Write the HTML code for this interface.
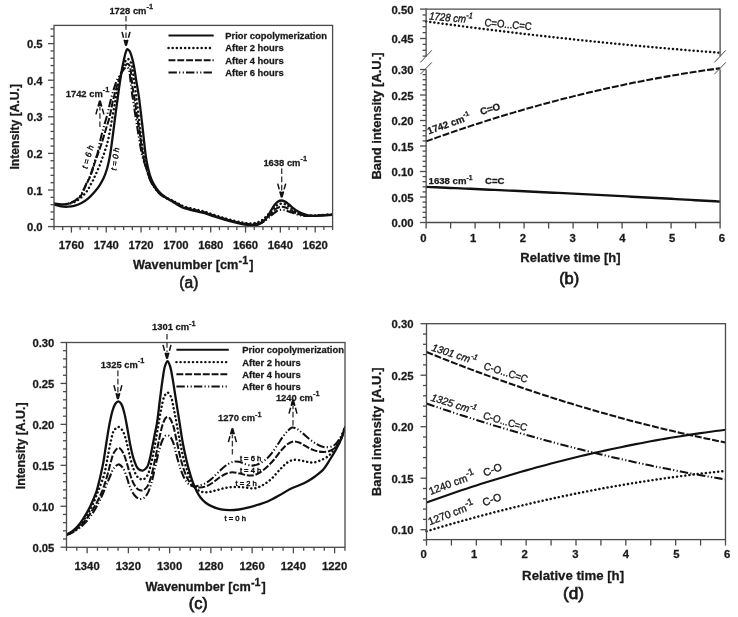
<!DOCTYPE html>
<html><head><meta charset="utf-8"><title>Figure</title>
<style>
html,body{margin:0;padding:0;background:#fff;width:738px;height:617px;overflow:hidden;}
svg{display:block;font-family:"Liberation Sans", sans-serif;filter:grayscale(1);}
</style></head>
<body>
<svg width="738" height="617" viewBox="0 0 738 617">
<rect width="738" height="617" fill="#fff"/>
<defs><clipPath id="clipA"><rect x="54" y="25.4" width="278.6" height="201.2"/></clipPath>
<clipPath id="clipC"><rect x="66.5" y="342.5" width="278.5" height="204.8"/></clipPath></defs>
<g clip-path="url(#clipA)">
<path d="M54 203.6C56.67 203.9 59.53 204.55 62 204.5C64.15 204.46 66.07 204.12 68 203.6C69.9 203.08 71.86 202.3 73.5 201.4C75 200.58 76.26 199.57 77.5 198.5C78.73 197.44 79.92 196.39 80.9 195C82 193.44 82.69 191.39 83.6 189.5C84.56 187.5 85.5 185.36 86.5 183.3C87.5 181.23 88.67 179.27 89.6 177.1C90.58 174.82 91.37 172.44 92.2 169.9C93.11 167.1 93.88 163.78 94.8 161C95.63 158.49 96.7 156.39 97.4 153.9C98.15 151.24 98.48 148.34 99.1 145.5C99.74 142.55 100.47 139.5 101.2 136.5C101.93 133.5 102.68 130.42 103.5 127.5C104.29 124.69 105.22 122.07 106 119.3C106.79 116.5 107.52 113.57 108.2 110.8C108.85 108.17 109.36 105.73 110 103.1C110.68 100.31 111.42 97.3 112.2 94.5C112.95 91.8 113.76 89.08 114.6 86.6C115.37 84.34 116.1 82.17 117 80.2C117.82 78.4 118.74 76.77 119.7 75.2C120.61 73.71 121.66 72.27 122.6 71C123.42 69.9 124.18 68.63 125 68C125.59 67.55 126.23 67.13 126.8 67.2C127.4 67.27 128.06 67.83 128.5 68.5C129.14 69.49 129.31 71.38 129.6 73C129.93 74.85 130.07 76.97 130.3 79C130.54 81.1 130.73 83.11 131 85.4C131.32 88.06 131.68 91.15 132.1 94C132.52 96.85 133.04 99.5 133.5 102.5C134.01 105.86 134.45 109.55 135 113.2C135.58 117.04 136.29 121.23 136.9 125C137.46 128.47 137.93 131.52 138.5 135C139.12 138.82 139.8 143.19 140.5 147C141.14 150.49 141.64 153.78 142.5 157C143.32 160.11 144.54 162.96 145.5 166C146.48 169.09 147.21 172.41 148.3 175.4C149.33 178.23 150.44 180.98 151.8 183.5C153.09 185.9 154.57 188.2 156.2 190.2C157.73 192.08 159.42 193.81 161.2 195.2C162.87 196.5 164.67 197.38 166.5 198.4C168.4 199.45 170.46 200.39 172.4 201.4C174.3 202.39 176.07 203.39 178 204.4C180.03 205.46 181.88 206.7 184.3 207.6C187.28 208.71 191.36 209.37 194.7 210.2C197.81 210.97 200.61 211.5 203.7 212.4C207.06 213.37 210.63 214.78 214.1 215.9C217.56 217.01 221.02 218.1 224.5 219.1C227.96 220.1 231.76 221.12 234.9 221.9C237.48 222.54 239.72 223.09 242 223.5C244.08 223.87 246 224.13 248 224.3C250 224.47 252.1 224.64 254 224.5C255.75 224.37 257.4 224.06 259 223.6C260.56 223.15 262.05 222.59 263.5 221.8C265.05 220.95 266.54 219.79 268 218.6C269.54 217.34 270.97 215.69 272.5 214.4C273.97 213.17 275.43 211.77 277 211C278.41 210.31 279.95 209.89 281.4 209.8C282.78 209.72 284.12 210.06 285.5 210.4C286.98 210.77 288.46 211.45 290 212C291.62 212.58 293.32 213.26 295 213.8C296.66 214.33 298.24 214.84 300 215.2C301.9 215.59 303.85 215.87 306 216C308.47 216.15 311.34 216.02 314 215.9C316.67 215.78 319.15 215.49 322 215.3C325.28 215.08 329.07 214.9 332.6 214.7" fill="none" stroke="#111" stroke-width="2.05" stroke-dasharray="8.4 2.2 1.2 2.4 1.2 2.1" />
<path d="M54 203.5C56.67 203.8 59.52 204.38 62 204.4C64.14 204.41 66.07 204.24 68 203.8C69.9 203.37 71.86 202.65 73.5 201.8C75 201.02 76.25 200.05 77.5 199C78.75 197.95 79.99 196.89 81 195.5C82.13 193.95 82.87 191.92 83.8 190C84.8 187.93 85.78 185.66 86.8 183.5C87.82 181.33 88.94 179.23 89.9 177C90.88 174.7 91.74 172.42 92.6 169.9C93.55 167.12 94.35 163.78 95.3 161C96.16 158.48 97.16 156.21 98 153.9C98.79 151.72 99.52 149.44 100.2 147.5C100.77 145.87 101.25 144.7 101.8 143C102.5 140.83 103.25 138.04 104 135.5C104.78 132.88 105.57 130.18 106.4 127.5C107.24 124.78 108.25 122.06 109 119.3C109.75 116.56 110.33 113.74 110.9 111C111.46 108.34 111.83 105.7 112.4 103.1C112.96 100.53 113.63 98.06 114.3 95.5C114.99 92.86 115.72 90.12 116.5 87.5C117.26 84.95 118.05 82.45 118.9 80C119.72 77.62 120.56 75.2 121.5 73C122.37 70.95 123.23 68.82 124.3 67.2C125.2 65.84 126.32 63.89 127.3 63.8C128.08 63.73 129.03 64.7 129.6 65.6C130.38 66.84 130.48 69.07 130.8 71C131.16 73.17 131.35 75.63 131.6 78C131.85 80.43 131.97 82.85 132.3 85.4C132.66 88.16 133.22 91.14 133.7 94C134.18 96.84 134.74 99.5 135.2 102.5C135.72 105.86 136.08 109.55 136.6 113.2C137.14 117.04 137.81 121.23 138.4 125C138.94 128.47 139.49 131.51 140 135C140.56 138.81 141.02 143.19 141.6 147C142.13 150.49 142.6 153.77 143.3 157C143.97 160.1 144.84 162.99 145.7 166C146.57 169.06 147.42 172.27 148.5 175.2C149.53 177.99 150.66 180.71 152 183.2C153.27 185.56 154.7 187.83 156.3 189.8C157.82 191.67 159.53 193.4 161.3 194.8C162.94 196.1 164.69 196.99 166.5 198C168.38 199.06 170.47 199.97 172.4 201C174.3 202.01 176.07 203.08 178 204.1C180.03 205.18 181.88 206.4 184.3 207.3C187.28 208.41 191.36 209.07 194.7 209.9C197.81 210.67 200.61 211.2 203.7 212.1C207.06 213.07 210.63 214.48 214.1 215.6C217.56 216.71 221.02 217.8 224.5 218.8C227.96 219.8 231.76 220.82 234.9 221.6C237.48 222.24 239.72 222.79 242 223.2C244.08 223.57 246 223.85 248 224C250 224.15 252.1 224.29 254 224.1C255.75 223.92 257.41 223.56 259 223C260.57 222.45 262.06 221.74 263.5 220.8C265.07 219.78 266.54 218.38 268 217C269.54 215.55 270.97 213.79 272.5 212.3C273.98 210.86 275.4 209.12 277 208.2C278.39 207.4 279.95 206.9 281.4 206.8C282.78 206.7 284.14 207.05 285.5 207.5C287 208 288.47 208.98 290 209.8C291.63 210.67 293.31 211.79 295 212.6C296.64 213.38 298.23 214.07 300 214.6C301.88 215.16 303.85 215.59 306 215.8C308.46 216.04 311.34 215.9 314 215.8C316.67 215.7 319.15 215.39 322 215.2C325.28 214.98 329.07 214.8 332.6 214.6" fill="none" stroke="#111" stroke-width="2.05" stroke-dasharray="6.9 1.9" />
<path d="M54 203.4C56.67 203.77 59.33 204.5 62 204.5C64.67 204.5 67.55 203.99 70 203.4C72.17 202.88 74.12 202.3 76 201.3C77.96 200.26 79.84 198.69 81.5 197.2C83.09 195.78 84.58 194.13 85.8 192.6C86.87 191.26 87.64 190.03 88.5 188.6C89.42 187.07 90.25 185.26 91.1 183.7C91.88 182.27 92.72 180.97 93.4 179.6C94.05 178.3 94.52 177.01 95.1 175.7C95.69 174.37 96.3 173.03 96.9 171.7C97.5 170.37 98.11 169.07 98.7 167.7C99.31 166.27 99.96 164.75 100.5 163.3C101.02 161.92 101.4 160.59 101.9 159.2C102.43 157.75 103.09 156.24 103.6 154.8C104.08 153.44 104.45 152.13 104.9 150.8C105.35 149.46 105.87 148.16 106.3 146.8C106.74 145.4 107.1 144.14 107.5 142.5C108.03 140.35 108.59 137.54 109.1 135C109.63 132.38 110.11 129.64 110.6 127C111.08 124.41 111.53 121.91 112 119.3C112.49 116.59 113.01 113.73 113.5 111C113.98 108.33 114.4 105.83 114.9 103.1C115.43 100.17 116.02 97.1 116.6 94C117.21 90.74 117.81 87.24 118.5 84C119.15 80.91 119.84 77.9 120.6 75C121.32 72.25 122.05 69.42 122.9 67C123.64 64.92 124.32 62.72 125.3 61.3C126.03 60.23 126.97 58.88 127.8 58.9C128.64 58.92 129.61 60.38 130.3 61.5C131.17 62.92 131.69 64.87 132.2 67C132.88 69.81 133.15 73.81 133.6 77C134.01 79.92 134.4 82.58 134.8 85.4C135.2 88.25 135.63 91.14 136 94C136.37 96.84 136.64 99.5 137 102.5C137.4 105.86 137.88 109.54 138.3 113.2C138.74 117.04 139.15 121.23 139.6 125C140.02 128.47 140.47 131.51 140.9 135C141.37 138.82 141.77 143.19 142.3 147C142.78 150.49 143.26 153.77 143.9 157C144.51 160.09 145.2 163.01 146 166C146.8 169.01 147.67 172.13 148.7 175C149.68 177.72 150.68 180.36 152 182.8C153.29 185.18 154.86 187.5 156.5 189.5C158.04 191.37 159.76 193.08 161.5 194.5C163.1 195.81 164.73 196.8 166.5 197.8C168.35 198.84 170.46 199.66 172.4 200.6C174.3 201.52 176.08 202.43 178 203.4C180.04 204.43 181.88 205.7 184.3 206.6C187.28 207.71 191.36 208.37 194.7 209.2C197.81 209.97 200.61 210.5 203.7 211.4C207.06 212.37 210.63 213.78 214.1 214.9C217.56 216.01 221.02 217.1 224.5 218.1C227.96 219.1 231.76 220.12 234.9 220.9C237.48 221.54 239.72 222.09 242 222.5C244.08 222.87 246 223.18 248 223.3C250 223.42 252.11 223.48 254 223.2C255.76 222.94 257.42 222.49 259 221.8C260.59 221.1 262.06 220.14 263.5 219C265.08 217.75 266.52 216.06 268 214.5C269.52 212.9 270.97 211.06 272.5 209.5C273.97 208 275.41 206.3 277 205.3C278.39 204.43 279.94 203.71 281.4 203.6C282.77 203.49 284.15 203.95 285.5 204.5C287.02 205.12 288.48 206.27 290 207.3C291.64 208.42 293.29 209.95 295 211C296.62 212 298.23 212.8 300 213.5C301.88 214.25 303.83 214.95 306 215.3C308.45 215.69 311.33 215.55 314 215.5C316.67 215.45 319.15 215.18 322 215C325.29 214.79 329.07 214.53 332.6 214.3" fill="none" stroke="#111" stroke-width="2.45" stroke-dasharray="0.1 4.04" stroke-linecap="round" />
<path d="M54 204.6C56.33 205.2 58.65 206.05 61 206.4C63.32 206.74 65.67 206.83 68 206.7C70.34 206.57 72.74 206.22 75 205.6C77.24 204.98 79.39 204.12 81.5 203C83.73 201.82 85.92 200.33 88 198.6C90.26 196.72 92.53 194.27 94.5 192C96.38 189.83 98.09 187.61 99.6 185.3C101.08 183.04 102.36 180.74 103.5 178.3C104.67 175.81 105.64 173.18 106.5 170.5C107.38 167.75 108.05 164.88 108.7 162C109.36 159.05 109.9 156.01 110.4 153C110.9 150.01 111.28 147.08 111.7 144C112.15 140.76 112.56 137.41 113 134C113.46 130.42 113.93 126.67 114.4 123C114.87 119.33 115.32 115.67 115.8 112C116.28 108.33 116.8 104.67 117.3 101C117.8 97.33 118.28 93.67 118.8 90C119.32 86.33 119.83 82.66 120.4 79C120.97 75.33 121.54 71.53 122.2 68C122.82 64.71 123.53 61.38 124.2 58.5C124.76 56.07 125.24 53.48 125.9 51.8C126.33 50.7 126.69 49.31 127.3 49.2C127.92 49.09 128.89 50.12 129.6 51.2C130.97 53.28 132.11 57.95 133.1 62C134.33 67.01 135.05 73.41 136 79.1C136.95 84.77 137.98 90.42 138.8 96.1C139.62 101.78 140.27 107.91 140.9 113.2C141.45 117.77 141.95 122 142.4 126C142.8 129.54 143.13 132.59 143.5 136C143.89 139.58 144.29 143.42 144.7 147C145.09 150.41 145.4 153.76 145.9 157C146.38 160.09 146.94 163.01 147.6 166C148.27 169.01 148.98 172.15 149.9 175C150.76 177.67 151.72 180.22 152.9 182.6C154.03 184.88 155.35 187.04 156.8 189C158.19 190.89 159.77 192.7 161.4 194.2C162.92 195.6 164.46 196.65 166.2 197.8C168.1 199.06 170.4 200.18 172.4 201.4C174.33 202.58 176.05 203.88 178 205C180.01 206.15 181.88 207.3 184.3 208.2C187.28 209.31 191.36 209.97 194.7 210.8C197.81 211.57 200.61 212.1 203.7 213C207.06 213.97 210.63 215.38 214.1 216.5C217.56 217.61 221.02 218.7 224.5 219.7C227.96 220.7 231.76 221.72 234.9 222.5C237.48 223.14 239.72 223.69 242 224.1C244.08 224.47 246.04 224.72 248 224.9C249.87 225.08 251.76 225.27 253.5 225.2C255.08 225.14 256.58 225.05 258 224.6C259.41 224.15 260.7 223.46 262 222.5C263.54 221.36 265.13 219.73 266.5 218C268 216.11 269.17 213.67 270.5 211.5C271.83 209.33 273.1 206.77 274.5 205C275.63 203.58 276.74 202.25 278 201.5C279.07 200.87 280.25 200.49 281.4 200.5C282.58 200.51 283.82 201.01 285 201.6C286.36 202.27 287.65 203.44 289 204.5C290.48 205.66 291.97 207.13 293.5 208.3C294.97 209.42 296.47 210.5 298 211.4C299.47 212.26 300.9 212.95 302.5 213.6C304.22 214.3 306.1 215.02 308 215.4C309.93 215.79 311.86 215.86 314 215.9C316.47 215.94 319.15 215.65 322 215.5C325.29 215.32 329.07 215.1 332.6 214.9" fill="none" stroke="#111" stroke-width="2.3"  />
</g>
<rect x="54" y="25.4" width="278.6" height="201.2" fill="none" stroke="#4a4a4a" stroke-width="1.3"/>
<line x1="50.5" y1="219.28" x2="54" y2="219.28" stroke="#4a4a4a" stroke-width="1.3" />
<line x1="50.5" y1="211.96" x2="54" y2="211.96" stroke="#4a4a4a" stroke-width="1.3" />
<line x1="50.5" y1="204.64" x2="54" y2="204.64" stroke="#4a4a4a" stroke-width="1.3" />
<line x1="50.5" y1="197.32" x2="54" y2="197.32" stroke="#4a4a4a" stroke-width="1.3" />
<line x1="50.5" y1="182.68" x2="54" y2="182.68" stroke="#4a4a4a" stroke-width="1.3" />
<line x1="50.5" y1="175.36" x2="54" y2="175.36" stroke="#4a4a4a" stroke-width="1.3" />
<line x1="50.5" y1="168.04" x2="54" y2="168.04" stroke="#4a4a4a" stroke-width="1.3" />
<line x1="50.5" y1="160.72" x2="54" y2="160.72" stroke="#4a4a4a" stroke-width="1.3" />
<line x1="50.5" y1="146.08" x2="54" y2="146.08" stroke="#4a4a4a" stroke-width="1.3" />
<line x1="50.5" y1="138.76" x2="54" y2="138.76" stroke="#4a4a4a" stroke-width="1.3" />
<line x1="50.5" y1="131.44" x2="54" y2="131.44" stroke="#4a4a4a" stroke-width="1.3" />
<line x1="50.5" y1="124.12" x2="54" y2="124.12" stroke="#4a4a4a" stroke-width="1.3" />
<line x1="50.5" y1="109.48" x2="54" y2="109.48" stroke="#4a4a4a" stroke-width="1.3" />
<line x1="50.5" y1="102.16" x2="54" y2="102.16" stroke="#4a4a4a" stroke-width="1.3" />
<line x1="50.5" y1="94.84" x2="54" y2="94.84" stroke="#4a4a4a" stroke-width="1.3" />
<line x1="50.5" y1="87.52" x2="54" y2="87.52" stroke="#4a4a4a" stroke-width="1.3" />
<line x1="50.5" y1="72.88" x2="54" y2="72.88" stroke="#4a4a4a" stroke-width="1.3" />
<line x1="50.5" y1="65.56" x2="54" y2="65.56" stroke="#4a4a4a" stroke-width="1.3" />
<line x1="50.5" y1="58.24" x2="54" y2="58.24" stroke="#4a4a4a" stroke-width="1.3" />
<line x1="50.5" y1="50.92" x2="54" y2="50.92" stroke="#4a4a4a" stroke-width="1.3" />
<line x1="50.5" y1="36.28" x2="54" y2="36.28" stroke="#4a4a4a" stroke-width="1.3" />
<line x1="50.5" y1="28.96" x2="54" y2="28.96" stroke="#4a4a4a" stroke-width="1.3" />
<line x1="48" y1="226.6" x2="54" y2="226.6" stroke="#4a4a4a" stroke-width="1.3" />
<line x1="48" y1="190" x2="54" y2="190" stroke="#4a4a4a" stroke-width="1.3" />
<line x1="48" y1="153.4" x2="54" y2="153.4" stroke="#4a4a4a" stroke-width="1.3" />
<line x1="48" y1="116.8" x2="54" y2="116.8" stroke="#4a4a4a" stroke-width="1.3" />
<line x1="48" y1="80.2" x2="54" y2="80.2" stroke="#4a4a4a" stroke-width="1.3" />
<line x1="48" y1="43.6" x2="54" y2="43.6" stroke="#4a4a4a" stroke-width="1.3" />
<line x1="54" y1="226.6" x2="54" y2="230.1" stroke="#4a4a4a" stroke-width="1.3" />
<line x1="62.71" y1="226.6" x2="62.71" y2="230.1" stroke="#4a4a4a" stroke-width="1.3" />
<line x1="80.12" y1="226.6" x2="80.12" y2="230.1" stroke="#4a4a4a" stroke-width="1.3" />
<line x1="88.83" y1="226.6" x2="88.83" y2="230.1" stroke="#4a4a4a" stroke-width="1.3" />
<line x1="97.53" y1="226.6" x2="97.53" y2="230.1" stroke="#4a4a4a" stroke-width="1.3" />
<line x1="114.94" y1="226.6" x2="114.94" y2="230.1" stroke="#4a4a4a" stroke-width="1.3" />
<line x1="123.65" y1="226.6" x2="123.65" y2="230.1" stroke="#4a4a4a" stroke-width="1.3" />
<line x1="132.36" y1="226.6" x2="132.36" y2="230.1" stroke="#4a4a4a" stroke-width="1.3" />
<line x1="149.77" y1="226.6" x2="149.77" y2="230.1" stroke="#4a4a4a" stroke-width="1.3" />
<line x1="158.47" y1="226.6" x2="158.47" y2="230.1" stroke="#4a4a4a" stroke-width="1.3" />
<line x1="167.18" y1="226.6" x2="167.18" y2="230.1" stroke="#4a4a4a" stroke-width="1.3" />
<line x1="184.59" y1="226.6" x2="184.59" y2="230.1" stroke="#4a4a4a" stroke-width="1.3" />
<line x1="193.3" y1="226.6" x2="193.3" y2="230.1" stroke="#4a4a4a" stroke-width="1.3" />
<line x1="202.01" y1="226.6" x2="202.01" y2="230.1" stroke="#4a4a4a" stroke-width="1.3" />
<line x1="219.42" y1="226.6" x2="219.42" y2="230.1" stroke="#4a4a4a" stroke-width="1.3" />
<line x1="228.13" y1="226.6" x2="228.13" y2="230.1" stroke="#4a4a4a" stroke-width="1.3" />
<line x1="236.83" y1="226.6" x2="236.83" y2="230.1" stroke="#4a4a4a" stroke-width="1.3" />
<line x1="254.24" y1="226.6" x2="254.24" y2="230.1" stroke="#4a4a4a" stroke-width="1.3" />
<line x1="262.95" y1="226.6" x2="262.95" y2="230.1" stroke="#4a4a4a" stroke-width="1.3" />
<line x1="271.66" y1="226.6" x2="271.66" y2="230.1" stroke="#4a4a4a" stroke-width="1.3" />
<line x1="289.07" y1="226.6" x2="289.07" y2="230.1" stroke="#4a4a4a" stroke-width="1.3" />
<line x1="297.77" y1="226.6" x2="297.77" y2="230.1" stroke="#4a4a4a" stroke-width="1.3" />
<line x1="306.48" y1="226.6" x2="306.48" y2="230.1" stroke="#4a4a4a" stroke-width="1.3" />
<line x1="323.89" y1="226.6" x2="323.89" y2="230.1" stroke="#4a4a4a" stroke-width="1.3" />
<line x1="332.6" y1="226.6" x2="332.6" y2="230.1" stroke="#4a4a4a" stroke-width="1.3" />
<line x1="71.41" y1="226.6" x2="71.41" y2="232.6" stroke="#4a4a4a" stroke-width="1.3" />
<line x1="106.24" y1="226.6" x2="106.24" y2="232.6" stroke="#4a4a4a" stroke-width="1.3" />
<line x1="141.06" y1="226.6" x2="141.06" y2="232.6" stroke="#4a4a4a" stroke-width="1.3" />
<line x1="175.89" y1="226.6" x2="175.89" y2="232.6" stroke="#4a4a4a" stroke-width="1.3" />
<line x1="210.71" y1="226.6" x2="210.71" y2="232.6" stroke="#4a4a4a" stroke-width="1.3" />
<line x1="245.54" y1="226.6" x2="245.54" y2="232.6" stroke="#4a4a4a" stroke-width="1.3" />
<line x1="280.36" y1="226.6" x2="280.36" y2="232.6" stroke="#4a4a4a" stroke-width="1.3" />
<line x1="315.19" y1="226.6" x2="315.19" y2="232.6" stroke="#4a4a4a" stroke-width="1.3" />
<text x="42.6" y="231.1" font-size="11.3" text-anchor="end" font-weight="bold" font-style="normal" fill="#1a1a1a"  stroke="#1a1a1a" stroke-width="0.28">0.0</text>
<text x="42.6" y="194.5" font-size="11.3" text-anchor="end" font-weight="bold" font-style="normal" fill="#1a1a1a"  stroke="#1a1a1a" stroke-width="0.28">0.1</text>
<text x="42.6" y="157.9" font-size="11.3" text-anchor="end" font-weight="bold" font-style="normal" fill="#1a1a1a"  stroke="#1a1a1a" stroke-width="0.28">0.2</text>
<text x="42.6" y="121.3" font-size="11.3" text-anchor="end" font-weight="bold" font-style="normal" fill="#1a1a1a"  stroke="#1a1a1a" stroke-width="0.28">0.3</text>
<text x="42.6" y="84.7" font-size="11.3" text-anchor="end" font-weight="bold" font-style="normal" fill="#1a1a1a"  stroke="#1a1a1a" stroke-width="0.28">0.4</text>
<text x="42.6" y="48.1" font-size="11.3" text-anchor="end" font-weight="bold" font-style="normal" fill="#1a1a1a"  stroke="#1a1a1a" stroke-width="0.28">0.5</text>
<text x="71.41" y="248.6" font-size="11.3" text-anchor="middle" font-weight="bold" font-style="normal" fill="#1a1a1a"  stroke="#1a1a1a" stroke-width="0.28">1760</text>
<text x="106.24" y="248.6" font-size="11.3" text-anchor="middle" font-weight="bold" font-style="normal" fill="#1a1a1a"  stroke="#1a1a1a" stroke-width="0.28">1740</text>
<text x="141.06" y="248.6" font-size="11.3" text-anchor="middle" font-weight="bold" font-style="normal" fill="#1a1a1a"  stroke="#1a1a1a" stroke-width="0.28">1720</text>
<text x="175.89" y="248.6" font-size="11.3" text-anchor="middle" font-weight="bold" font-style="normal" fill="#1a1a1a"  stroke="#1a1a1a" stroke-width="0.28">1700</text>
<text x="210.71" y="248.6" font-size="11.3" text-anchor="middle" font-weight="bold" font-style="normal" fill="#1a1a1a"  stroke="#1a1a1a" stroke-width="0.28">1680</text>
<text x="245.54" y="248.6" font-size="11.3" text-anchor="middle" font-weight="bold" font-style="normal" fill="#1a1a1a"  stroke="#1a1a1a" stroke-width="0.28">1660</text>
<text x="280.36" y="248.6" font-size="11.3" text-anchor="middle" font-weight="bold" font-style="normal" fill="#1a1a1a"  stroke="#1a1a1a" stroke-width="0.28">1640</text>
<text x="315.19" y="248.6" font-size="11.3" text-anchor="middle" font-weight="bold" font-style="normal" fill="#1a1a1a"  stroke="#1a1a1a" stroke-width="0.28">1620</text>
<text x="133" y="269.4" font-size="12.7" text-anchor="start" font-weight="bold" font-style="normal" fill="#1a1a1a" textLength="105.4" lengthAdjust="spacingAndGlyphs" stroke="#1a1a1a" stroke-width="0.28">Wavenumber [cm</text>
<text x="238.6" y="264.4" font-size="10.8" text-anchor="start" font-weight="bold" font-style="normal" fill="#1a1a1a"  stroke="#1a1a1a" stroke-width="0.28">-1</text>
<text x="249.2" y="269.4" font-size="12.7" text-anchor="start" font-weight="bold" font-style="normal" fill="#1a1a1a"  stroke="#1a1a1a" stroke-width="0.28">]</text>
<text x="188.85" y="287.5" font-size="15.6" text-anchor="middle" font-weight="normal" font-style="normal" fill="#1a1a1a" stroke="#1a1a1a" stroke-width="0.6">(a)</text>
<text x="18.6" y="126.8" font-size="12.4" text-anchor="middle" font-weight="bold" font-style="normal" fill="#1a1a1a" transform="rotate(-90 18.6 126.8)" textLength="85.6" lengthAdjust="spacingAndGlyphs" stroke="#1a1a1a" stroke-width="0.28">Intensity [A.U.]</text>
<path d="M168.5 35.5 L213.7 35.5" fill="none" stroke="#111" stroke-width="2.05"  />
<text x="225.3" y="38.9" font-size="9.4" text-anchor="start" font-weight="bold" font-style="normal" fill="#1a1a1a"  stroke="#1a1a1a" stroke-width="0.28">Prior copolymerization</text>
<path d="M168.5 48 L213.7 48" fill="none" stroke="#111" stroke-width="2.45" stroke-dasharray="0.1 4.04" stroke-linecap="round" />
<text x="225.3" y="51.4" font-size="9.4" text-anchor="start" font-weight="bold" font-style="normal" fill="#1a1a1a"  stroke="#1a1a1a" stroke-width="0.28">After 2 hours</text>
<path d="M168.5 60.3 L213.7 60.3" fill="none" stroke="#111" stroke-width="2.05" stroke-dasharray="6.9 1.9" />
<text x="225.3" y="63.7" font-size="9.4" text-anchor="start" font-weight="bold" font-style="normal" fill="#1a1a1a"  stroke="#1a1a1a" stroke-width="0.28">After 4 hours</text>
<path d="M168.5 72.5 L213.7 72.5" fill="none" stroke="#111" stroke-width="2.05" stroke-dasharray="8.4 2.2 1.2 2.4 1.2 2.1" />
<text x="225.3" y="75.9" font-size="9.4" text-anchor="start" font-weight="bold" font-style="normal" fill="#1a1a1a"  stroke="#1a1a1a" stroke-width="0.28">After 6 hours</text>
<text x="109.4" y="13.7" font-size="9.4" text-anchor="start" font-weight="bold" font-style="normal" fill="#1a1a1a" transform="translate(109.4 13.7) scale(1 1.05) translate(-109.4 -13.7)" stroke="#1a1a1a" stroke-width="0.25">1728 cm<tspan dy="-4.23" font-size="7.33">-1</tspan></text>
<line x1="126" y1="16" x2="126" y2="39.6" stroke="#3a3a3a" stroke-width="1.35" stroke-dasharray="5.6 2.6"/>
<path d="M122 31.9 L126 46.6 M130 31.9 L126 46.6" stroke="#111" stroke-width="1.5" fill="none" stroke-dasharray="6 2.2"/>
<path d="M124 40 L128 40 L126 46.6 Z" fill="#111"/>
<text x="65.7" y="96.8" font-size="9.4" text-anchor="start" font-weight="bold" font-style="normal" fill="#1a1a1a" transform="translate(65.7 96.8) scale(1 1.05) translate(-65.7 -96.8)" stroke="#1a1a1a" stroke-width="0.25">1742 cm<tspan dy="-4.23" font-size="7.33">-1</tspan></text>
<line x1="99.9" y1="127" x2="99.9" y2="106.7" stroke="#3a3a3a" stroke-width="1.35" stroke-dasharray="5.6 2.6"/>
<path d="M95.9 114.4 L99.9 99.7 M103.9 114.4 L99.9 99.7" stroke="#111" stroke-width="1.5" fill="none" stroke-dasharray="6 2.2"/>
<path d="M97.9 106.3 L101.9 106.3 L99.9 99.7 Z" fill="#111"/>
<text x="263.4" y="165.6" font-size="9.4" text-anchor="start" font-weight="bold" font-style="normal" fill="#1a1a1a" transform="translate(263.4 165.6) scale(1 1.05) translate(-263.4 -165.6)" stroke="#1a1a1a" stroke-width="0.25">1638 cm<tspan dy="-4.23" font-size="7.33">-1</tspan></text>
<line x1="281.7" y1="168.4" x2="281.7" y2="191.3" stroke="#3a3a3a" stroke-width="1.35" stroke-dasharray="5.6 2.6"/>
<path d="M277.7 183.6 L281.7 198.3 M285.7 183.6 L281.7 198.3" stroke="#111" stroke-width="1.5" fill="none" stroke-dasharray="6 2.2"/>
<path d="M279.7 191.7 L283.7 191.7 L281.7 198.3 Z" fill="#111"/>
<text x="87.2" y="169.2" font-size="8.5" text-anchor="start" font-weight="normal" font-style="italic" fill="#000" transform="rotate(-74 87.2 169.2)" stroke="#000" stroke-width="0.3">t = 6 h</text>
<text x="116.3" y="170.8" font-size="8.2" text-anchor="start" font-weight="normal" font-style="italic" fill="#000" transform="rotate(-82 116.3 170.8)" stroke="#000" stroke-width="0.3">t = 0 h</text>
<path d="M426.1 21.45 L431 22.12 L435.9 22.78 L440.8 23.44 L445.7 24.1 L450.6 24.75 L455.5 25.39 L460.4 26.03 L465.3 26.66 L470.2 27.29 L475.1 27.92 L480 28.54 L484.9 29.15 L489.8 29.76 L494.7 30.37 L499.6 30.97 L504.5 31.56 L509.4 32.15 L514.3 32.73 L519.2 33.31 L524.1 33.89 L529 34.46 L533.9 35.02 L538.8 35.58 L543.7 36.14 L548.6 36.69 L553.5 37.23 L558.4 37.77 L563.3 38.31 L568.2 38.84 L573.1 39.36 L578 39.88 L582.9 40.4 L587.8 40.91 L592.7 41.41 L597.6 41.91 L602.5 42.41 L607.4 42.9 L612.3 43.38 L617.2 43.86 L622.1 44.34 L627 44.81 L631.9 45.27 L636.8 45.73 L641.7 46.19 L646.6 46.64 L651.5 47.08 L656.4 47.52 L661.3 47.96 L666.2 48.39 L671.1 48.81 L676 49.23 L680.9 49.65 L685.8 50.06 L690.7 50.46 L695.6 50.86 L700.5 51.26 L705.4 51.65 L710.3 52.03 L715.2 52.41 L720.1 52.79" fill="none" stroke="#111" stroke-width="2.45" stroke-dasharray="0.1 4.04" stroke-linecap="round" />
<path d="M426.1 141.41 L431 139.64 L435.9 137.88 L440.8 136.15 L445.7 134.43 L450.6 132.73 L455.5 131.05 L460.4 129.39 L465.3 127.75 L470.2 126.12 L475.1 124.52 L480 122.93 L484.9 121.37 L489.8 119.82 L494.7 118.29 L499.6 116.78 L504.5 115.29 L509.4 113.82 L514.3 112.36 L519.2 110.93 L524.1 109.51 L529 108.11 L533.9 106.73 L538.8 105.37 L543.7 104.03 L548.6 102.71 L553.5 101.41 L558.4 100.12 L563.3 98.86 L568.2 97.61 L573.1 96.38 L578 95.17 L582.9 93.98 L587.8 92.81 L592.7 91.66 L597.6 90.52 L602.5 89.41 L607.4 88.31 L612.3 87.23 L617.2 86.17 L622.1 85.13 L627 84.11 L631.9 83.11 L636.8 82.13 L641.7 81.16 L646.6 80.21 L651.5 79.29 L656.4 78.38 L661.3 77.49 L666.2 76.62 L671.1 75.76 L676 74.93 L680.9 74.12 L685.8 73.32 L690.7 72.54 L695.6 71.79 L700.5 71.05 L705.4 70.33 L710.3 69.62 L715.2 68.94 L720.1 68.28" fill="none" stroke="#111" stroke-width="2.05" stroke-dasharray="6.9 1.9" />
<path d="M426.1 186.9 L431 187.11 L435.9 187.31 L440.8 187.52 L445.7 187.73 L450.6 187.94 L455.5 188.16 L460.4 188.37 L465.3 188.58 L470.2 188.8 L475.1 189.02 L480 189.24 L484.9 189.46 L489.8 189.68 L494.7 189.9 L499.6 190.12 L504.5 190.35 L509.4 190.58 L514.3 190.81 L519.2 191.03 L524.1 191.27 L529 191.5 L533.9 191.73 L538.8 191.97 L543.7 192.2 L548.6 192.44 L553.5 192.68 L558.4 192.92 L563.3 193.16 L568.2 193.4 L573.1 193.65 L578 193.89 L582.9 194.14 L587.8 194.39 L592.7 194.64 L597.6 194.89 L602.5 195.14 L607.4 195.39 L612.3 195.65 L617.2 195.9 L622.1 196.16 L627 196.42 L631.9 196.68 L636.8 196.94 L641.7 197.2 L646.6 197.47 L651.5 197.73 L656.4 198 L661.3 198.27 L666.2 198.54 L671.1 198.81 L676 199.08 L680.9 199.35 L685.8 199.63 L690.7 199.91 L695.6 200.18 L700.5 200.46 L705.4 200.74 L710.3 201.02 L715.2 201.31 L720.1 201.59" fill="none" stroke="#111" stroke-width="2.4"  />
<line x1="426.1" y1="9.1" x2="720.1" y2="9.1" stroke="#4a4a4a" stroke-width="1.3" />
<line x1="426.1" y1="222.5" x2="720.1" y2="222.5" stroke="#4a4a4a" stroke-width="1.3" />
<line x1="426.1" y1="8.5" x2="426.1" y2="56.5" stroke="#4a4a4a" stroke-width="1.3" />
<line x1="426.1" y1="69.5" x2="426.1" y2="223.1" stroke="#4a4a4a" stroke-width="1.3" />
<line x1="720.1" y1="8.5" x2="720.1" y2="56.5" stroke="#4a4a4a" stroke-width="1.3" />
<line x1="720.1" y1="69.5" x2="720.1" y2="223.1" stroke="#4a4a4a" stroke-width="1.3" />
<line x1="420.4" y1="62.4" x2="431.8" y2="50.3" stroke="#4a4a4a" stroke-width="1" />
<line x1="420.4" y1="74.2" x2="431.8" y2="62.4" stroke="#4a4a4a" stroke-width="1" />
<line x1="714.4" y1="62.4" x2="725.8" y2="50.3" stroke="#4a4a4a" stroke-width="1" />
<line x1="714.4" y1="74.2" x2="725.8" y2="62.4" stroke="#4a4a4a" stroke-width="1" />
<line x1="422.6" y1="14.98" x2="426.1" y2="14.98" stroke="#4a4a4a" stroke-width="1.3" />
<line x1="422.6" y1="20.86" x2="426.1" y2="20.86" stroke="#4a4a4a" stroke-width="1.3" />
<line x1="422.6" y1="26.74" x2="426.1" y2="26.74" stroke="#4a4a4a" stroke-width="1.3" />
<line x1="422.6" y1="32.62" x2="426.1" y2="32.62" stroke="#4a4a4a" stroke-width="1.3" />
<line x1="422.6" y1="44.38" x2="426.1" y2="44.38" stroke="#4a4a4a" stroke-width="1.3" />
<line x1="422.6" y1="50.26" x2="426.1" y2="50.26" stroke="#4a4a4a" stroke-width="1.3" />
<line x1="422.6" y1="56.14" x2="426.1" y2="56.14" stroke="#4a4a4a" stroke-width="1.3" />
<line x1="420.1" y1="9.1" x2="426.1" y2="9.1" stroke="#4a4a4a" stroke-width="1.3" />
<line x1="420.1" y1="38.5" x2="426.1" y2="38.5" stroke="#4a4a4a" stroke-width="1.3" />
<line x1="422.6" y1="217.4" x2="426.1" y2="217.4" stroke="#4a4a4a" stroke-width="1.3" />
<line x1="422.6" y1="212.3" x2="426.1" y2="212.3" stroke="#4a4a4a" stroke-width="1.3" />
<line x1="422.6" y1="207.2" x2="426.1" y2="207.2" stroke="#4a4a4a" stroke-width="1.3" />
<line x1="422.6" y1="202.1" x2="426.1" y2="202.1" stroke="#4a4a4a" stroke-width="1.3" />
<line x1="422.6" y1="191.9" x2="426.1" y2="191.9" stroke="#4a4a4a" stroke-width="1.3" />
<line x1="422.6" y1="186.8" x2="426.1" y2="186.8" stroke="#4a4a4a" stroke-width="1.3" />
<line x1="422.6" y1="181.7" x2="426.1" y2="181.7" stroke="#4a4a4a" stroke-width="1.3" />
<line x1="422.6" y1="176.6" x2="426.1" y2="176.6" stroke="#4a4a4a" stroke-width="1.3" />
<line x1="422.6" y1="166.4" x2="426.1" y2="166.4" stroke="#4a4a4a" stroke-width="1.3" />
<line x1="422.6" y1="161.3" x2="426.1" y2="161.3" stroke="#4a4a4a" stroke-width="1.3" />
<line x1="422.6" y1="156.2" x2="426.1" y2="156.2" stroke="#4a4a4a" stroke-width="1.3" />
<line x1="422.6" y1="151.1" x2="426.1" y2="151.1" stroke="#4a4a4a" stroke-width="1.3" />
<line x1="422.6" y1="140.9" x2="426.1" y2="140.9" stroke="#4a4a4a" stroke-width="1.3" />
<line x1="422.6" y1="135.8" x2="426.1" y2="135.8" stroke="#4a4a4a" stroke-width="1.3" />
<line x1="422.6" y1="130.7" x2="426.1" y2="130.7" stroke="#4a4a4a" stroke-width="1.3" />
<line x1="422.6" y1="125.6" x2="426.1" y2="125.6" stroke="#4a4a4a" stroke-width="1.3" />
<line x1="422.6" y1="115.4" x2="426.1" y2="115.4" stroke="#4a4a4a" stroke-width="1.3" />
<line x1="422.6" y1="110.3" x2="426.1" y2="110.3" stroke="#4a4a4a" stroke-width="1.3" />
<line x1="422.6" y1="105.2" x2="426.1" y2="105.2" stroke="#4a4a4a" stroke-width="1.3" />
<line x1="422.6" y1="100.1" x2="426.1" y2="100.1" stroke="#4a4a4a" stroke-width="1.3" />
<line x1="422.6" y1="89.9" x2="426.1" y2="89.9" stroke="#4a4a4a" stroke-width="1.3" />
<line x1="422.6" y1="84.8" x2="426.1" y2="84.8" stroke="#4a4a4a" stroke-width="1.3" />
<line x1="422.6" y1="79.7" x2="426.1" y2="79.7" stroke="#4a4a4a" stroke-width="1.3" />
<line x1="422.6" y1="74.6" x2="426.1" y2="74.6" stroke="#4a4a4a" stroke-width="1.3" />
<line x1="420.1" y1="222.5" x2="426.1" y2="222.5" stroke="#4a4a4a" stroke-width="1.3" />
<line x1="420.1" y1="197" x2="426.1" y2="197" stroke="#4a4a4a" stroke-width="1.3" />
<line x1="420.1" y1="171.5" x2="426.1" y2="171.5" stroke="#4a4a4a" stroke-width="1.3" />
<line x1="420.1" y1="146" x2="426.1" y2="146" stroke="#4a4a4a" stroke-width="1.3" />
<line x1="420.1" y1="120.5" x2="426.1" y2="120.5" stroke="#4a4a4a" stroke-width="1.3" />
<line x1="420.1" y1="95" x2="426.1" y2="95" stroke="#4a4a4a" stroke-width="1.3" />
<line x1="420.1" y1="69.5" x2="426.1" y2="69.5" stroke="#4a4a4a" stroke-width="1.3" />
<line x1="450.6" y1="222.5" x2="450.6" y2="228.5" stroke="#4a4a4a" stroke-width="1.3" />
<line x1="499.6" y1="222.5" x2="499.6" y2="228.5" stroke="#4a4a4a" stroke-width="1.3" />
<line x1="548.6" y1="222.5" x2="548.6" y2="228.5" stroke="#4a4a4a" stroke-width="1.3" />
<line x1="597.6" y1="222.5" x2="597.6" y2="228.5" stroke="#4a4a4a" stroke-width="1.3" />
<line x1="646.6" y1="222.5" x2="646.6" y2="228.5" stroke="#4a4a4a" stroke-width="1.3" />
<line x1="695.6" y1="222.5" x2="695.6" y2="228.5" stroke="#4a4a4a" stroke-width="1.3" />
<line x1="426.1" y1="222.5" x2="426.1" y2="228.5" stroke="#4a4a4a" stroke-width="1.3" />
<line x1="475.1" y1="222.5" x2="475.1" y2="228.5" stroke="#4a4a4a" stroke-width="1.3" />
<line x1="524.1" y1="222.5" x2="524.1" y2="228.5" stroke="#4a4a4a" stroke-width="1.3" />
<line x1="573.1" y1="222.5" x2="573.1" y2="228.5" stroke="#4a4a4a" stroke-width="1.3" />
<line x1="622.1" y1="222.5" x2="622.1" y2="228.5" stroke="#4a4a4a" stroke-width="1.3" />
<line x1="671.1" y1="222.5" x2="671.1" y2="228.5" stroke="#4a4a4a" stroke-width="1.3" />
<line x1="720.1" y1="222.5" x2="720.1" y2="228.5" stroke="#4a4a4a" stroke-width="1.3" />
<text x="413.5" y="13.6" font-size="11.3" text-anchor="end" font-weight="bold" font-style="normal" fill="#1a1a1a"  stroke="#1a1a1a" stroke-width="0.28">0.50</text>
<text x="413.5" y="43" font-size="11.3" text-anchor="end" font-weight="bold" font-style="normal" fill="#1a1a1a"  stroke="#1a1a1a" stroke-width="0.28">0.45</text>
<text x="413.5" y="227" font-size="11.3" text-anchor="end" font-weight="bold" font-style="normal" fill="#1a1a1a"  stroke="#1a1a1a" stroke-width="0.28">0.00</text>
<text x="413.5" y="201.5" font-size="11.3" text-anchor="end" font-weight="bold" font-style="normal" fill="#1a1a1a"  stroke="#1a1a1a" stroke-width="0.28">0.05</text>
<text x="413.5" y="176" font-size="11.3" text-anchor="end" font-weight="bold" font-style="normal" fill="#1a1a1a"  stroke="#1a1a1a" stroke-width="0.28">0.10</text>
<text x="413.5" y="150.5" font-size="11.3" text-anchor="end" font-weight="bold" font-style="normal" fill="#1a1a1a"  stroke="#1a1a1a" stroke-width="0.28">0.15</text>
<text x="413.5" y="125" font-size="11.3" text-anchor="end" font-weight="bold" font-style="normal" fill="#1a1a1a"  stroke="#1a1a1a" stroke-width="0.28">0.20</text>
<text x="413.5" y="99.5" font-size="11.3" text-anchor="end" font-weight="bold" font-style="normal" fill="#1a1a1a"  stroke="#1a1a1a" stroke-width="0.28">0.25</text>
<text x="413.5" y="74" font-size="11.3" text-anchor="end" font-weight="bold" font-style="normal" fill="#1a1a1a"  stroke="#1a1a1a" stroke-width="0.28">0.30</text>
<text x="423.4" y="241.8" font-size="11.3" text-anchor="middle" font-weight="bold" font-style="normal" fill="#1a1a1a"  stroke="#1a1a1a" stroke-width="0.28">0</text>
<text x="473.17" y="241.8" font-size="11.3" text-anchor="middle" font-weight="bold" font-style="normal" fill="#1a1a1a"  stroke="#1a1a1a" stroke-width="0.28">1</text>
<text x="522.94" y="241.8" font-size="11.3" text-anchor="middle" font-weight="bold" font-style="normal" fill="#1a1a1a"  stroke="#1a1a1a" stroke-width="0.28">2</text>
<text x="572.71" y="241.8" font-size="11.3" text-anchor="middle" font-weight="bold" font-style="normal" fill="#1a1a1a"  stroke="#1a1a1a" stroke-width="0.28">3</text>
<text x="622.48" y="241.8" font-size="11.3" text-anchor="middle" font-weight="bold" font-style="normal" fill="#1a1a1a"  stroke="#1a1a1a" stroke-width="0.28">4</text>
<text x="672.25" y="241.8" font-size="11.3" text-anchor="middle" font-weight="bold" font-style="normal" fill="#1a1a1a"  stroke="#1a1a1a" stroke-width="0.28">5</text>
<text x="722.02" y="241.8" font-size="11.3" text-anchor="middle" font-weight="bold" font-style="normal" fill="#1a1a1a"  stroke="#1a1a1a" stroke-width="0.28">6</text>
<text x="520.3" y="261.8" font-size="13" text-anchor="start" font-weight="bold" font-style="normal" fill="#1a1a1a" textLength="100.3" lengthAdjust="spacingAndGlyphs" stroke="#1a1a1a" stroke-width="0.28">Relative time [h]</text>
<text x="569.15" y="284.3" font-size="16.4" text-anchor="middle" font-weight="normal" font-style="normal" fill="#1a1a1a" stroke="#1a1a1a" stroke-width="0.75">(b)</text>
<text x="381.4" y="116" font-size="12.5" text-anchor="middle" font-weight="bold" font-style="normal" fill="#1a1a1a" transform="rotate(-90 381.4 116)" textLength="127.2" lengthAdjust="spacingAndGlyphs" stroke="#1a1a1a" stroke-width="0.28">Band intensity [A.U.]</text>
<text x="429" y="19.6" font-size="9.6" text-anchor="start" font-weight="normal" font-style="italic" fill="#1a1a1a" transform="rotate(5 429 19.6) translate(429 19.6) scale(1 1.12) translate(-429 -19.6)" stroke="#1a1a1a" stroke-width="0.35">1728 cm<tspan dy="-4.32" font-size="7.49">-1</tspan></text>
<text x="484.2" y="26" font-size="9.6" text-anchor="start" font-weight="normal" font-style="normal" fill="#1a1a1a" transform="rotate(5 484.2 26) translate(484.2 26) scale(1 1.12) translate(-484.2 -26)" stroke="#1a1a1a" stroke-width="0.35">C=O...C=C</text>
<text x="428.8" y="134.4" font-size="9.8" text-anchor="start" font-weight="bold" font-style="normal" fill="#1a1a1a" transform="rotate(-19.5 428.8 134.4)" stroke="#1a1a1a" stroke-width="0.25">1742 cm<tspan dy="-4.6" font-size="6.86">-1</tspan></text>
<text x="481.2" y="115" font-size="9.8" text-anchor="start" font-weight="bold" font-style="normal" fill="#1a1a1a" transform="rotate(-16 481.2 115)"  stroke="#1a1a1a" stroke-width="0.28">C=O</text>
<text x="428.6" y="184.4" font-size="9.6" text-anchor="start" font-weight="bold" font-style="normal" fill="#1a1a1a" stroke="#1a1a1a" stroke-width="0.25">1638 cm<tspan dy="-4.6" font-size="6.72">-1</tspan></text>
<text x="485" y="184.4" font-size="9.6" text-anchor="start" font-weight="bold" font-style="normal" fill="#1a1a1a"  stroke="#1a1a1a" stroke-width="0.28">C=C</text>
<g clip-path="url(#clipC)">
<path d="M66.5 535C67.83 534.53 69.19 534.17 70.5 533.6C71.86 533.01 73.19 532.28 74.5 531.5C75.86 530.69 77.19 529.79 78.5 528.8C79.86 527.77 81.19 526.62 82.5 525.4C83.86 524.13 85.2 522.76 86.5 521.3C87.87 519.77 89.18 518.21 90.5 516.4C92.01 514.33 93.52 512.02 95 509.5C96.69 506.62 98.47 503.15 100 500C101.46 496.98 102.71 494.01 104 491C105.28 488.01 106.52 484.86 107.7 482C108.78 479.39 109.77 476.85 110.8 474.5C111.73 472.38 112.3 470.19 113.6 468.5C114.88 466.84 116.89 464.42 118.5 464.4C120.02 464.38 121.75 466.34 123 468C124.57 470.1 125.38 473.5 126.5 476.5C127.73 479.8 128.62 483.79 130 487C131.25 489.91 132.66 492.97 134.3 495C135.58 496.59 136.98 498.04 138.5 498.6C139.84 499.1 141.48 499.14 142.8 498.6C144.35 497.97 145.78 496.33 147 494.5C148.66 492.02 149.79 488.3 151 484.5C152.52 479.73 153.68 473.54 155 468C156.34 462.38 157.61 456.03 159 451C160.13 446.91 161.19 442.73 162.5 440C163.37 438.19 164.27 436.54 165.3 435.8C165.99 435.3 166.76 435.12 167.5 435.2C168.32 435.29 169.23 435.75 170 436.5C171.15 437.62 172.08 439.71 173 442C174.34 445.35 175.28 450.59 176.5 455C177.77 459.58 179.03 464.82 180.5 469C181.74 472.51 182.94 475.78 184.5 478.5C185.83 480.82 187.25 483.16 189 484.5C190.49 485.64 192.28 486.33 194 486.5C195.72 486.67 197.45 486.01 199.3 485.5C201.43 484.91 203.91 484.15 206 483C208.15 481.83 210.06 480.18 212 478.5C214.07 476.71 215.93 474.48 218 472.5C220.12 470.47 222.21 468.25 224.6 466.5C227 464.74 229.82 462.73 232.4 462C234.61 461.37 236.8 461.45 239 461.8C241.33 462.17 243.74 463.65 246 464.3C248.06 464.89 250.09 465.58 252 465.6C253.74 465.61 255.3 465.2 257 464.6C258.96 463.91 261.15 462.7 263 461.5C264.81 460.33 266.41 459.06 268 457.5C269.76 455.78 271.39 453.66 273 451.5C274.73 449.18 276.28 446.53 278 444C279.78 441.37 281.71 438.38 283.5 436C285.03 433.96 286.4 431.95 288 430.5C289.36 429.26 290.78 427.83 292.3 427.6C293.78 427.37 295.47 428.23 297 429C298.74 429.88 300.11 431.24 302.1 432.8C305.04 435.11 309.09 439.28 312.8 441.7C316.24 443.94 319.84 446.44 323.5 447C326.98 447.53 331.4 446.93 334.2 445.3C336.8 443.78 338.24 440.82 340 438C342.06 434.7 343.67 430.33 345.5 426.5" fill="none" stroke="#111" stroke-width="2.05" stroke-dasharray="8.4 2.2 1.2 2.4 1.2 2.1" />
<path d="M66.5 534.8C67.83 534.27 69.19 533.85 70.5 533.2C71.86 532.52 73.2 531.71 74.5 530.8C75.87 529.85 77.2 528.77 78.5 527.6C79.87 526.38 81.2 525.03 82.5 523.6C83.87 522.1 85.14 520.6 86.5 518.8C88.12 516.65 89.86 514.05 91.5 511.5C93.23 508.8 95.12 505.73 96.6 503C97.91 500.58 98.9 498.43 100 496C101.17 493.44 102.28 491.07 103.4 488C104.85 484.01 106.43 478.5 107.7 474C108.87 469.86 109.69 465.75 110.8 462C111.8 458.63 112.49 454.99 114 452.5C115.21 450.49 117 447.8 118.5 447.8C120 447.8 121.75 450.5 123 452.5C124.56 454.99 125.39 458.63 126.5 462C127.73 465.75 128.7 470.18 130 474C131.22 477.59 132.36 481.54 134 484.3C135.3 486.49 136.83 488.63 138.5 489.6C139.83 490.37 141.43 490.77 142.8 490.4C144.39 489.97 146.04 488.29 147.3 486.5C148.95 484.16 149.86 480.67 151 477C152.49 472.2 153.71 465.91 155 460C156.39 453.62 157.66 446.18 159 440C160.16 434.63 161.21 428.93 162.5 425C163.38 422.34 164.2 419.83 165.3 418.5C165.97 417.68 166.74 417.02 167.5 417C168.3 416.98 169.24 417.66 170 418.5C171.19 419.82 172.08 422.33 173 425C174.35 428.92 175.35 434.92 176.5 440C177.69 445.24 178.71 450.86 180 456C181.22 460.84 182.53 465.82 184 470C185.24 473.51 186.45 476.73 188 479.5C189.34 481.9 190.55 484.47 192.5 485.8C194.36 487.06 197.02 487.42 199.3 487.5C201.58 487.58 203.97 487.09 206.2 486.3C208.55 485.47 210.81 483.94 213 482.5C215.25 481.02 217.28 478.97 219.5 477.5C221.62 476.09 223.82 474.68 226 473.8C227.99 473 229.85 472.39 232 472.3C234.47 472.2 237.43 473.08 240 473.6C242.42 474.09 244.65 475.04 247 475.3C249.32 475.56 251.66 475.79 254 475.2C256.66 474.52 259.6 472.6 262 471C264.23 469.51 266.02 467.88 268 466C270.19 463.92 272.41 461.46 274.5 459C276.65 456.47 278.55 453.47 280.7 451C282.73 448.66 284.76 446.14 287 444.5C288.96 443.06 291.12 441.69 293.2 441.4C295.12 441.13 297.05 441.81 299 442.5C301.21 443.28 303.5 444.92 305.7 446.1C307.83 447.25 309.88 448.59 312 449.5C314.01 450.36 315.75 451.15 318.1 451.5C321.14 451.96 325.54 452.33 328.8 451.3C332.07 450.27 335.47 447.8 337.7 445.3C339.78 442.97 340.74 439.98 342 437C343.37 433.76 344.33 430 345.5 426.5" fill="none" stroke="#111" stroke-width="2.05" stroke-dasharray="6.9 1.9" />
<path d="M66.5 534.6C67.83 534 69.2 533.54 70.5 532.8C71.87 532.02 73.2 531.05 74.5 530C75.87 528.89 77.21 527.65 78.5 526.3C79.88 524.86 81.2 523.26 82.5 521.6C83.87 519.84 85.21 517.99 86.5 516C87.88 513.87 89.3 511.44 90.5 509.2C91.62 507.11 92.51 505.28 93.5 503C94.68 500.3 95.87 496.86 97 494C98.03 491.38 98.95 489.33 100 486.5C101.35 482.88 103.09 478.47 104.3 474C105.64 469.04 106.4 463.49 107.5 458C108.66 452.18 109.83 445.02 111.1 440C112.03 436.3 112.47 432.74 114 430.5C115.15 428.81 116.97 426.98 118.4 427C119.8 427.02 121.35 428.85 122.5 430.5C124.07 432.76 124.93 436.44 126 440C127.32 444.4 128.23 450.1 129.5 455C130.74 459.76 131.88 465 133.5 469C134.81 472.24 136.12 475.67 138 477.4C139.39 478.69 141.29 479.73 142.8 479.5C144.41 479.26 146.1 477.4 147.3 475.6C148.87 473.25 149.5 469.64 150.5 466C151.77 461.37 152.89 455.64 154 450C155.24 443.72 156.33 436.67 157.5 430C158.67 423.33 159.74 415.99 161 410C162.04 405.04 162.78 399.54 164.3 396.5C165.21 394.67 166.42 392.61 167.5 392.6C168.59 392.59 169.87 394.66 170.8 396.5C172.33 399.53 173.04 405.54 174 410C174.93 414.34 175.61 418.18 176.5 422.9C177.58 428.64 178.75 435.79 180 442C181.19 447.95 182.43 454.15 183.8 459.4C184.96 463.82 186.21 467.79 187.5 471.5C188.63 474.74 189.66 477.8 191 480.5C192.19 482.9 193.43 485.16 195 487C196.46 488.71 198.05 490.41 200 491.3C202.02 492.22 204.54 492.39 207 492.3C209.77 492.2 212.84 491.1 215.8 490.4C218.84 489.68 221.84 488.57 225 488C228.27 487.42 231.75 487.08 235.1 487C238.41 486.92 241.75 487.26 245 487.5C248.18 487.73 251.48 488.8 254.4 488.4C257.11 488.03 259.45 486.85 262 485.5C264.94 483.94 268.04 481.78 270.9 479.3C274.07 476.54 277.12 472.42 280 469.5C282.45 467.02 284.62 464.43 287 462.8C288.97 461.45 290.87 460.43 293 460C295.19 459.56 297.77 460.01 300 460.3C302.09 460.57 303.97 461.22 306 461.6C308.07 461.99 310.11 462.71 312.3 462.6C314.75 462.48 317.42 461.65 320 460.6C322.91 459.42 326.29 457.72 328.8 455.6C331.27 453.51 333.1 450.76 335 448C337.01 445.08 338.87 441.88 340.5 438.5C342.23 434.91 343.5 430.83 345 427" fill="none" stroke="#111" stroke-width="2.45" stroke-dasharray="0.1 4.04" stroke-linecap="round" />
<path d="M66.5 534.4C67.83 533.77 69.21 533.29 70.5 532.5C71.88 531.65 73.21 530.57 74.5 529.4C75.88 528.15 77.21 526.73 78.5 525.2C79.89 523.55 81.2 521.7 82.5 519.8C83.87 517.78 85.21 515.65 86.5 513.4C87.88 511 89.3 508.28 90.5 505.8C91.62 503.49 92.52 501.37 93.5 499C94.55 496.45 95.7 493.77 96.6 491C97.54 488.11 98.26 484.92 99 482C99.69 479.26 100.24 476.94 100.9 474C101.7 470.41 102.56 466.61 103.4 462C104.53 455.78 105.71 446.75 106.8 440C107.73 434.24 108.52 428.99 109.5 424C110.37 419.56 111.21 415.1 112.3 411.5C113.17 408.65 113.95 405.75 115.2 404C116.09 402.76 117.28 401.39 118.3 401.4C119.31 401.41 120.44 402.71 121.3 404C122.63 405.99 123.39 409.59 124.3 413C125.45 417.33 126.31 422.77 127.3 428C128.38 433.72 129.3 440.4 130.5 446C131.56 450.98 132.57 455.96 134 460C135.16 463.28 136.19 466.86 138 468.6C139.34 469.89 141.31 470.81 142.8 470.6C144.32 470.38 145.9 468.77 147 467.2C148.36 465.26 148.88 462.38 149.7 459.4C150.76 455.56 151.61 450.44 152.5 446C153.38 441.64 154.21 437.06 155 433C155.7 429.42 156.34 426.99 157 422.9C158.01 416.64 159 406.71 160 399C160.94 391.77 161.85 384.02 162.8 378C163.52 373.43 163.96 369.06 165 366C165.7 363.94 166.67 361.1 167.5 361.1C168.33 361.1 169.28 363.95 170 366C171.08 369.06 171.68 373.53 172.5 378C173.52 383.6 174.42 390.18 175.5 397C176.76 404.97 178.32 414.81 179.6 422.9C180.73 430.02 181.62 436.66 182.8 443C183.87 448.76 185.16 454.54 186.3 459.4C187.22 463.33 187.99 466.42 189 470C190.05 473.72 191.22 477.75 192.5 481.3C193.67 484.55 194.89 487.69 196.3 490.5C197.58 493.04 198.86 495.4 200.5 497.5C202.1 499.55 203.93 501.44 206 503C208.12 504.59 210.62 505.84 213.1 506.9C215.61 507.98 218.28 508.85 221 509.4C223.78 509.96 226.67 510.17 229.6 510.2C232.66 510.23 235.84 509.95 239 509.5C242.27 509.03 245.69 508.22 248.9 507.4C252.01 506.61 254.89 505.69 258 504.7C261.31 503.64 264.81 502.65 268.2 501.2C271.81 499.66 275.39 497.6 279 495.6C282.73 493.54 286.75 490.72 290.2 489C292.98 487.62 295.33 486.95 298 485.8C300.86 484.57 303.97 483.35 306.8 481.8C309.64 480.25 312.32 478.48 315 476.5C317.83 474.41 320.85 472.24 323.3 469.5C325.88 466.62 327.78 463.02 330 459.5C332.39 455.71 335.09 451.31 337.1 447.5C338.84 444.19 340.14 441.35 341.5 438C342.96 434.38 344.17 430.33 345.5 426.5" fill="none" stroke="#111" stroke-width="2.3"  />
</g>
<rect x="66.5" y="342.5" width="278.5" height="204.8" fill="none" stroke="#4a4a4a" stroke-width="1.3"/>
<line x1="63" y1="539.01" x2="66.5" y2="539.01" stroke="#4a4a4a" stroke-width="1.3" />
<line x1="63" y1="530.82" x2="66.5" y2="530.82" stroke="#4a4a4a" stroke-width="1.3" />
<line x1="63" y1="522.64" x2="66.5" y2="522.64" stroke="#4a4a4a" stroke-width="1.3" />
<line x1="63" y1="514.45" x2="66.5" y2="514.45" stroke="#4a4a4a" stroke-width="1.3" />
<line x1="63" y1="498.07" x2="66.5" y2="498.07" stroke="#4a4a4a" stroke-width="1.3" />
<line x1="63" y1="489.88" x2="66.5" y2="489.88" stroke="#4a4a4a" stroke-width="1.3" />
<line x1="63" y1="481.7" x2="66.5" y2="481.7" stroke="#4a4a4a" stroke-width="1.3" />
<line x1="63" y1="473.51" x2="66.5" y2="473.51" stroke="#4a4a4a" stroke-width="1.3" />
<line x1="63" y1="457.13" x2="66.5" y2="457.13" stroke="#4a4a4a" stroke-width="1.3" />
<line x1="63" y1="448.94" x2="66.5" y2="448.94" stroke="#4a4a4a" stroke-width="1.3" />
<line x1="63" y1="440.76" x2="66.5" y2="440.76" stroke="#4a4a4a" stroke-width="1.3" />
<line x1="63" y1="432.57" x2="66.5" y2="432.57" stroke="#4a4a4a" stroke-width="1.3" />
<line x1="63" y1="416.19" x2="66.5" y2="416.19" stroke="#4a4a4a" stroke-width="1.3" />
<line x1="63" y1="408" x2="66.5" y2="408" stroke="#4a4a4a" stroke-width="1.3" />
<line x1="63" y1="399.82" x2="66.5" y2="399.82" stroke="#4a4a4a" stroke-width="1.3" />
<line x1="63" y1="391.63" x2="66.5" y2="391.63" stroke="#4a4a4a" stroke-width="1.3" />
<line x1="63" y1="375.25" x2="66.5" y2="375.25" stroke="#4a4a4a" stroke-width="1.3" />
<line x1="63" y1="367.06" x2="66.5" y2="367.06" stroke="#4a4a4a" stroke-width="1.3" />
<line x1="63" y1="358.88" x2="66.5" y2="358.88" stroke="#4a4a4a" stroke-width="1.3" />
<line x1="63" y1="350.69" x2="66.5" y2="350.69" stroke="#4a4a4a" stroke-width="1.3" />
<line x1="60.5" y1="547.2" x2="66.5" y2="547.2" stroke="#4a4a4a" stroke-width="1.3" />
<line x1="60.5" y1="506.26" x2="66.5" y2="506.26" stroke="#4a4a4a" stroke-width="1.3" />
<line x1="60.5" y1="465.32" x2="66.5" y2="465.32" stroke="#4a4a4a" stroke-width="1.3" />
<line x1="60.5" y1="424.38" x2="66.5" y2="424.38" stroke="#4a4a4a" stroke-width="1.3" />
<line x1="60.5" y1="383.44" x2="66.5" y2="383.44" stroke="#4a4a4a" stroke-width="1.3" />
<line x1="60.5" y1="342.5" x2="66.5" y2="342.5" stroke="#4a4a4a" stroke-width="1.3" />
<line x1="66.5" y1="547.3" x2="66.5" y2="550.8" stroke="#4a4a4a" stroke-width="1.3" />
<line x1="76.81" y1="547.3" x2="76.81" y2="550.8" stroke="#4a4a4a" stroke-width="1.3" />
<line x1="97.44" y1="547.3" x2="97.44" y2="550.8" stroke="#4a4a4a" stroke-width="1.3" />
<line x1="107.75" y1="547.3" x2="107.75" y2="550.8" stroke="#4a4a4a" stroke-width="1.3" />
<line x1="118.06" y1="547.3" x2="118.06" y2="550.8" stroke="#4a4a4a" stroke-width="1.3" />
<line x1="138.69" y1="547.3" x2="138.69" y2="550.8" stroke="#4a4a4a" stroke-width="1.3" />
<line x1="149" y1="547.3" x2="149" y2="550.8" stroke="#4a4a4a" stroke-width="1.3" />
<line x1="159.31" y1="547.3" x2="159.31" y2="550.8" stroke="#4a4a4a" stroke-width="1.3" />
<line x1="179.94" y1="547.3" x2="179.94" y2="550.8" stroke="#4a4a4a" stroke-width="1.3" />
<line x1="190.25" y1="547.3" x2="190.25" y2="550.8" stroke="#4a4a4a" stroke-width="1.3" />
<line x1="200.56" y1="547.3" x2="200.56" y2="550.8" stroke="#4a4a4a" stroke-width="1.3" />
<line x1="221.19" y1="547.3" x2="221.19" y2="550.8" stroke="#4a4a4a" stroke-width="1.3" />
<line x1="231.5" y1="547.3" x2="231.5" y2="550.8" stroke="#4a4a4a" stroke-width="1.3" />
<line x1="241.81" y1="547.3" x2="241.81" y2="550.8" stroke="#4a4a4a" stroke-width="1.3" />
<line x1="262.44" y1="547.3" x2="262.44" y2="550.8" stroke="#4a4a4a" stroke-width="1.3" />
<line x1="272.75" y1="547.3" x2="272.75" y2="550.8" stroke="#4a4a4a" stroke-width="1.3" />
<line x1="283.06" y1="547.3" x2="283.06" y2="550.8" stroke="#4a4a4a" stroke-width="1.3" />
<line x1="303.69" y1="547.3" x2="303.69" y2="550.8" stroke="#4a4a4a" stroke-width="1.3" />
<line x1="314" y1="547.3" x2="314" y2="550.8" stroke="#4a4a4a" stroke-width="1.3" />
<line x1="324.31" y1="547.3" x2="324.31" y2="550.8" stroke="#4a4a4a" stroke-width="1.3" />
<line x1="344.94" y1="547.3" x2="344.94" y2="550.8" stroke="#4a4a4a" stroke-width="1.3" />
<line x1="87.12" y1="547.3" x2="87.12" y2="553.3" stroke="#4a4a4a" stroke-width="1.3" />
<line x1="128.38" y1="547.3" x2="128.38" y2="553.3" stroke="#4a4a4a" stroke-width="1.3" />
<line x1="169.62" y1="547.3" x2="169.62" y2="553.3" stroke="#4a4a4a" stroke-width="1.3" />
<line x1="210.88" y1="547.3" x2="210.88" y2="553.3" stroke="#4a4a4a" stroke-width="1.3" />
<line x1="252.12" y1="547.3" x2="252.12" y2="553.3" stroke="#4a4a4a" stroke-width="1.3" />
<line x1="293.38" y1="547.3" x2="293.38" y2="553.3" stroke="#4a4a4a" stroke-width="1.3" />
<line x1="334.62" y1="547.3" x2="334.62" y2="553.3" stroke="#4a4a4a" stroke-width="1.3" />
<text x="54.4" y="551.7" font-size="11.3" text-anchor="end" font-weight="bold" font-style="normal" fill="#1a1a1a"  stroke="#1a1a1a" stroke-width="0.28">0.05</text>
<text x="54.4" y="510.76" font-size="11.3" text-anchor="end" font-weight="bold" font-style="normal" fill="#1a1a1a"  stroke="#1a1a1a" stroke-width="0.28">0.10</text>
<text x="54.4" y="469.82" font-size="11.3" text-anchor="end" font-weight="bold" font-style="normal" fill="#1a1a1a"  stroke="#1a1a1a" stroke-width="0.28">0.15</text>
<text x="54.4" y="428.88" font-size="11.3" text-anchor="end" font-weight="bold" font-style="normal" fill="#1a1a1a"  stroke="#1a1a1a" stroke-width="0.28">0.20</text>
<text x="54.4" y="387.94" font-size="11.3" text-anchor="end" font-weight="bold" font-style="normal" fill="#1a1a1a"  stroke="#1a1a1a" stroke-width="0.28">0.25</text>
<text x="54.4" y="347" font-size="11.3" text-anchor="end" font-weight="bold" font-style="normal" fill="#1a1a1a"  stroke="#1a1a1a" stroke-width="0.28">0.30</text>
<text x="87.12" y="569.6" font-size="11.3" text-anchor="middle" font-weight="bold" font-style="normal" fill="#1a1a1a"  stroke="#1a1a1a" stroke-width="0.28">1340</text>
<text x="128.38" y="569.6" font-size="11.3" text-anchor="middle" font-weight="bold" font-style="normal" fill="#1a1a1a"  stroke="#1a1a1a" stroke-width="0.28">1320</text>
<text x="169.62" y="569.6" font-size="11.3" text-anchor="middle" font-weight="bold" font-style="normal" fill="#1a1a1a"  stroke="#1a1a1a" stroke-width="0.28">1300</text>
<text x="210.88" y="569.6" font-size="11.3" text-anchor="middle" font-weight="bold" font-style="normal" fill="#1a1a1a"  stroke="#1a1a1a" stroke-width="0.28">1280</text>
<text x="252.12" y="569.6" font-size="11.3" text-anchor="middle" font-weight="bold" font-style="normal" fill="#1a1a1a"  stroke="#1a1a1a" stroke-width="0.28">1260</text>
<text x="293.38" y="569.6" font-size="11.3" text-anchor="middle" font-weight="bold" font-style="normal" fill="#1a1a1a"  stroke="#1a1a1a" stroke-width="0.28">1240</text>
<text x="334.62" y="569.6" font-size="11.3" text-anchor="middle" font-weight="bold" font-style="normal" fill="#1a1a1a"  stroke="#1a1a1a" stroke-width="0.28">1220</text>
<text x="145.4" y="590.8" font-size="12.7" text-anchor="start" font-weight="bold" font-style="normal" fill="#1a1a1a" textLength="105.4" lengthAdjust="spacingAndGlyphs" stroke="#1a1a1a" stroke-width="0.28">Wavenumber [cm</text>
<text x="251" y="585.8" font-size="10.8" text-anchor="start" font-weight="bold" font-style="normal" fill="#1a1a1a"  stroke="#1a1a1a" stroke-width="0.28">-1</text>
<text x="261.6" y="590.8" font-size="12.7" text-anchor="start" font-weight="bold" font-style="normal" fill="#1a1a1a"  stroke="#1a1a1a" stroke-width="0.28">]</text>
<text x="198.25" y="609.2" font-size="16.4" text-anchor="middle" font-weight="normal" font-style="normal" fill="#1a1a1a" stroke="#1a1a1a" stroke-width="0.75">(c)</text>
<text x="25.2" y="445.9" font-size="12.6" text-anchor="middle" font-weight="bold" font-style="normal" fill="#1a1a1a" transform="rotate(-90 25.2 445.9)" textLength="86.8" lengthAdjust="spacingAndGlyphs" stroke="#1a1a1a" stroke-width="0.28">Intensity [A.U.]</text>
<path d="M176.4 349.8 L228.8 349.8" fill="none" stroke="#111" stroke-width="2.05"  />
<text x="242.3" y="353.2" font-size="9.4" text-anchor="start" font-weight="bold" font-style="normal" fill="#1a1a1a"  stroke="#1a1a1a" stroke-width="0.28">Prior copolymerization</text>
<path d="M176.4 362.1 L228.8 362.1" fill="none" stroke="#111" stroke-width="2.45" stroke-dasharray="0.1 4.04" stroke-linecap="round" />
<text x="242.3" y="365.5" font-size="9.4" text-anchor="start" font-weight="bold" font-style="normal" fill="#1a1a1a"  stroke="#1a1a1a" stroke-width="0.28">After 2 hours</text>
<path d="M176.4 374.3 L228.8 374.3" fill="none" stroke="#111" stroke-width="2.05" stroke-dasharray="6.9 1.9" />
<text x="242.3" y="377.7" font-size="9.4" text-anchor="start" font-weight="bold" font-style="normal" fill="#1a1a1a"  stroke="#1a1a1a" stroke-width="0.28">After 4 hours</text>
<path d="M176.4 386.4 L228.8 386.4" fill="none" stroke="#111" stroke-width="2.05" stroke-dasharray="8.4 2.2 1.2 2.4 1.2 2.1" />
<text x="242.3" y="389.8" font-size="9.4" text-anchor="start" font-weight="bold" font-style="normal" fill="#1a1a1a"  stroke="#1a1a1a" stroke-width="0.28">After 6 hours</text>
<text x="152" y="330.2" font-size="9.4" text-anchor="start" font-weight="bold" font-style="normal" fill="#1a1a1a" transform="translate(152 330.2) scale(1 1.05) translate(-152 -330.2)" stroke="#1a1a1a" stroke-width="0.25">1301 cm<tspan dy="-4.23" font-size="7.33">-1</tspan></text>
<line x1="167" y1="334" x2="167" y2="352.6" stroke="#3a3a3a" stroke-width="1.35" stroke-dasharray="5.6 2.6"/>
<path d="M163 344.9 L167 359.6 M171 344.9 L167 359.6" stroke="#111" stroke-width="1.5" fill="none" stroke-dasharray="6 2.2"/>
<path d="M165 353 L169 353 L167 359.6 Z" fill="#111"/>
<text x="100.8" y="367.8" font-size="9.4" text-anchor="start" font-weight="bold" font-style="normal" fill="#1a1a1a" transform="translate(100.8 367.8) scale(1 1.05) translate(-100.8 -367.8)" stroke="#1a1a1a" stroke-width="0.25">1325 cm<tspan dy="-4.23" font-size="7.33">-1</tspan></text>
<line x1="117.9" y1="370.6" x2="117.9" y2="393" stroke="#3a3a3a" stroke-width="1.35" stroke-dasharray="5.6 2.6"/>
<path d="M113.9 385.3 L117.9 400 M121.9 385.3 L117.9 400" stroke="#111" stroke-width="1.5" fill="none" stroke-dasharray="6 2.2"/>
<path d="M115.9 393.4 L119.9 393.4 L117.9 400 Z" fill="#111"/>
<text x="218" y="421.4" font-size="9.4" text-anchor="start" font-weight="bold" font-style="normal" fill="#1a1a1a" transform="translate(218 421.4) scale(1 1.05) translate(-218 -421.4)" stroke="#1a1a1a" stroke-width="0.25">1270 cm<tspan dy="-4.23" font-size="7.33">-1</tspan></text>
<line x1="232.4" y1="454.6" x2="232.4" y2="434.4" stroke="#3a3a3a" stroke-width="1.35" stroke-dasharray="5.6 2.6"/>
<path d="M228.4 442.1 L232.4 427.4 M236.4 442.1 L232.4 427.4" stroke="#111" stroke-width="1.5" fill="none" stroke-dasharray="6 2.2"/>
<path d="M230.4 434 L234.4 434 L232.4 427.4 Z" fill="#111"/>
<text x="275.9" y="400.8" font-size="9.4" text-anchor="start" font-weight="bold" font-style="normal" fill="#1a1a1a" transform="translate(275.9 400.8) scale(1 1.05) translate(-275.9 -400.8)" stroke="#1a1a1a" stroke-width="0.25">1240 cm<tspan dy="-4.23" font-size="7.33">-1</tspan></text>
<line x1="293" y1="425.6" x2="293" y2="405.9" stroke="#3a3a3a" stroke-width="1.35" stroke-dasharray="5.6 2.6"/>
<path d="M289 413.6 L293 398.9 M297 413.6 L293 398.9" stroke="#111" stroke-width="1.5" fill="none" stroke-dasharray="6 2.2"/>
<path d="M291 405.5 L295 405.5 L293 398.9 Z" fill="#111"/>
<text x="239.9" y="461.2" font-size="7.6" text-anchor="start" font-weight="normal" font-style="normal" fill="#1a1a1a" stroke="#111" stroke-width="0.45">t = 6 h</text>
<text x="239.9" y="472.8" font-size="7.6" text-anchor="start" font-weight="normal" font-style="normal" fill="#1a1a1a" stroke="#111" stroke-width="0.45">t = 4 h</text>
<text x="235.5" y="485.5" font-size="7.6" text-anchor="start" font-weight="normal" font-style="normal" fill="#1a1a1a" stroke="#111" stroke-width="0.45">t = 2 h</text>
<text x="224.6" y="520.6" font-size="7.6" text-anchor="start" font-weight="normal" font-style="normal" fill="#1a1a1a" stroke="#111" stroke-width="0.45">t = 0 h</text>
<path d="M426.5 352.02 L431.48 354.05 L436.47 356.05 L441.45 358.04 L446.43 360.01 L451.42 361.97 L456.4 363.9 L461.38 365.82 L466.37 367.72 L471.35 369.61 L476.33 371.47 L481.32 373.32 L486.3 375.15 L491.28 376.97 L496.27 378.76 L501.25 380.54 L506.23 382.3 L511.22 384.04 L516.2 385.77 L521.18 387.48 L526.17 389.17 L531.15 390.84 L536.13 392.5 L541.12 394.14 L546.1 395.76 L551.08 397.36 L556.07 398.95 L561.05 400.52 L566.03 402.07 L571.02 403.6 L576 405.12 L580.98 406.62 L585.97 408.1 L590.95 409.56 L595.93 411.01 L600.92 412.43 L605.9 413.85 L610.88 415.24 L615.87 416.61 L620.85 417.97 L625.83 419.31 L630.82 420.64 L635.8 421.94 L640.78 423.23 L645.77 424.5 L650.75 425.76 L655.73 426.99 L660.72 428.21 L665.7 429.41 L670.68 430.6 L675.67 431.76 L680.65 432.91 L685.63 434.04 L690.62 435.15 L695.6 436.25 L700.58 437.33 L705.57 438.39 L710.55 439.43 L715.53 440.46 L720.52 441.47 L725.5 442.46" fill="none" stroke="#111" stroke-width="2.05" stroke-dasharray="6.9 1.9" />
<path d="M426.5 403.52 L431.48 405.24 L436.47 406.93 L441.45 408.62 L446.43 410.28 L451.42 411.93 L456.4 413.57 L461.38 415.19 L466.37 416.8 L471.35 418.39 L476.33 419.96 L481.32 421.53 L486.3 423.07 L491.28 424.6 L496.27 426.12 L501.25 427.62 L506.23 429.1 L511.22 430.57 L516.2 432.03 L521.18 433.47 L526.17 434.89 L531.15 436.3 L536.13 437.69 L541.12 439.07 L546.1 440.44 L551.08 441.78 L556.07 443.12 L561.05 444.44 L566.03 445.74 L571.02 447.03 L576 448.3 L580.98 449.56 L585.97 450.8 L590.95 452.03 L595.93 453.24 L600.92 454.44 L605.9 455.62 L610.88 456.78 L615.87 457.94 L620.85 459.07 L625.83 460.19 L630.82 461.3 L635.8 462.39 L640.78 463.47 L645.77 464.53 L650.75 465.57 L655.73 466.6 L660.72 467.62 L665.7 468.62 L670.68 469.6 L675.67 470.57 L680.65 471.53 L685.63 472.47 L690.62 473.39 L695.6 474.3 L700.58 475.19 L705.57 476.07 L710.55 476.94 L715.53 477.78 L720.52 478.62 L725.5 479.44" fill="none" stroke="#111" stroke-width="2.05" stroke-dasharray="8.4 2.2 1.2 2.4 1.2 2.1" />
<path d="M426.5 502.51 L431.48 500.71 L436.47 498.94 L441.45 497.18 L446.43 495.45 L451.42 493.73 L456.4 492.04 L461.38 490.36 L466.37 488.71 L471.35 487.07 L476.33 485.45 L481.32 483.86 L486.3 482.28 L491.28 480.72 L496.27 479.18 L501.25 477.67 L506.23 476.17 L511.22 474.69 L516.2 473.23 L521.18 471.79 L526.17 470.37 L531.15 468.97 L536.13 467.59 L541.12 466.23 L546.1 464.89 L551.08 463.57 L556.07 462.27 L561.05 460.99 L566.03 459.73 L571.02 458.49 L576 457.26 L580.98 456.06 L585.97 454.88 L590.95 453.72 L595.93 452.57 L600.92 451.45 L605.9 450.35 L610.88 449.26 L615.87 448.2 L620.85 447.16 L625.83 446.13 L630.82 445.13 L635.8 444.14 L640.78 443.18 L645.77 442.23 L650.75 441.31 L655.73 440.4 L660.72 439.51 L665.7 438.65 L670.68 437.8 L675.67 436.97 L680.65 436.17 L685.63 435.38 L690.62 434.61 L695.6 433.86 L700.58 433.14 L705.57 432.43 L710.55 431.74 L715.53 431.07 L720.52 430.42 L725.5 429.79" fill="none" stroke="#111" stroke-width="2.1"  />
<path d="M426.5 531.24 L431.48 529.75 L436.47 528.27 L441.45 526.8 L446.43 525.36 L451.42 523.92 L456.4 522.51 L461.38 521.11 L466.37 519.73 L471.35 518.37 L476.33 517.02 L481.32 515.69 L486.3 514.38 L491.28 513.08 L496.27 511.8 L501.25 510.54 L506.23 509.29 L511.22 508.06 L516.2 506.85 L521.18 505.65 L526.17 504.47 L531.15 503.31 L536.13 502.16 L541.12 501.03 L546.1 499.92 L551.08 498.82 L556.07 497.74 L561.05 496.68 L566.03 495.64 L571.02 494.61 L576 493.59 L580.98 492.6 L585.97 491.62 L590.95 490.66 L595.93 489.71 L600.92 488.78 L605.9 487.87 L610.88 486.97 L615.87 486.09 L620.85 485.23 L625.83 484.39 L630.82 483.56 L635.8 482.75 L640.78 481.95 L645.77 481.17 L650.75 480.41 L655.73 479.67 L660.72 478.94 L665.7 478.23 L670.68 477.53 L675.67 476.85 L680.65 476.19 L685.63 475.55 L690.62 474.92 L695.6 474.31 L700.58 473.71 L705.57 473.13 L710.55 472.57 L715.53 472.03 L720.52 471.5 L725.5 470.99" fill="none" stroke="#111" stroke-width="2.45" stroke-dasharray="0.1 4.04" stroke-linecap="round" />
<rect x="426.5" y="323.7" width="299" height="215.9" fill="none" stroke="#4a4a4a" stroke-width="1.3"/>
<line x1="423" y1="540" x2="426.5" y2="540" stroke="#4a4a4a" stroke-width="1.3" />
<line x1="423" y1="519.4" x2="426.5" y2="519.4" stroke="#4a4a4a" stroke-width="1.3" />
<line x1="423" y1="509.1" x2="426.5" y2="509.1" stroke="#4a4a4a" stroke-width="1.3" />
<line x1="423" y1="498.8" x2="426.5" y2="498.8" stroke="#4a4a4a" stroke-width="1.3" />
<line x1="423" y1="488.5" x2="426.5" y2="488.5" stroke="#4a4a4a" stroke-width="1.3" />
<line x1="423" y1="467.9" x2="426.5" y2="467.9" stroke="#4a4a4a" stroke-width="1.3" />
<line x1="423" y1="457.6" x2="426.5" y2="457.6" stroke="#4a4a4a" stroke-width="1.3" />
<line x1="423" y1="447.3" x2="426.5" y2="447.3" stroke="#4a4a4a" stroke-width="1.3" />
<line x1="423" y1="437" x2="426.5" y2="437" stroke="#4a4a4a" stroke-width="1.3" />
<line x1="423" y1="416.4" x2="426.5" y2="416.4" stroke="#4a4a4a" stroke-width="1.3" />
<line x1="423" y1="406.1" x2="426.5" y2="406.1" stroke="#4a4a4a" stroke-width="1.3" />
<line x1="423" y1="395.8" x2="426.5" y2="395.8" stroke="#4a4a4a" stroke-width="1.3" />
<line x1="423" y1="385.5" x2="426.5" y2="385.5" stroke="#4a4a4a" stroke-width="1.3" />
<line x1="423" y1="364.9" x2="426.5" y2="364.9" stroke="#4a4a4a" stroke-width="1.3" />
<line x1="423" y1="354.6" x2="426.5" y2="354.6" stroke="#4a4a4a" stroke-width="1.3" />
<line x1="423" y1="344.3" x2="426.5" y2="344.3" stroke="#4a4a4a" stroke-width="1.3" />
<line x1="423" y1="334" x2="426.5" y2="334" stroke="#4a4a4a" stroke-width="1.3" />
<line x1="420.5" y1="529.7" x2="426.5" y2="529.7" stroke="#4a4a4a" stroke-width="1.3" />
<line x1="420.5" y1="478.2" x2="426.5" y2="478.2" stroke="#4a4a4a" stroke-width="1.3" />
<line x1="420.5" y1="426.7" x2="426.5" y2="426.7" stroke="#4a4a4a" stroke-width="1.3" />
<line x1="420.5" y1="375.2" x2="426.5" y2="375.2" stroke="#4a4a4a" stroke-width="1.3" />
<line x1="420.5" y1="323.7" x2="426.5" y2="323.7" stroke="#4a4a4a" stroke-width="1.3" />
<line x1="451.42" y1="539.6" x2="451.42" y2="545.6" stroke="#4a4a4a" stroke-width="1.3" />
<line x1="501.25" y1="539.6" x2="501.25" y2="545.6" stroke="#4a4a4a" stroke-width="1.3" />
<line x1="551.08" y1="539.6" x2="551.08" y2="545.6" stroke="#4a4a4a" stroke-width="1.3" />
<line x1="600.92" y1="539.6" x2="600.92" y2="545.6" stroke="#4a4a4a" stroke-width="1.3" />
<line x1="650.75" y1="539.6" x2="650.75" y2="545.6" stroke="#4a4a4a" stroke-width="1.3" />
<line x1="700.58" y1="539.6" x2="700.58" y2="545.6" stroke="#4a4a4a" stroke-width="1.3" />
<line x1="426.5" y1="539.6" x2="426.5" y2="545.6" stroke="#4a4a4a" stroke-width="1.3" />
<line x1="476.33" y1="539.6" x2="476.33" y2="545.6" stroke="#4a4a4a" stroke-width="1.3" />
<line x1="526.17" y1="539.6" x2="526.17" y2="545.6" stroke="#4a4a4a" stroke-width="1.3" />
<line x1="576" y1="539.6" x2="576" y2="545.6" stroke="#4a4a4a" stroke-width="1.3" />
<line x1="625.83" y1="539.6" x2="625.83" y2="545.6" stroke="#4a4a4a" stroke-width="1.3" />
<line x1="675.67" y1="539.6" x2="675.67" y2="545.6" stroke="#4a4a4a" stroke-width="1.3" />
<line x1="725.5" y1="539.6" x2="725.5" y2="545.6" stroke="#4a4a4a" stroke-width="1.3" />
<text x="413.5" y="534.2" font-size="11.3" text-anchor="end" font-weight="bold" font-style="normal" fill="#1a1a1a"  stroke="#1a1a1a" stroke-width="0.28">0.10</text>
<text x="413.5" y="482.7" font-size="11.3" text-anchor="end" font-weight="bold" font-style="normal" fill="#1a1a1a"  stroke="#1a1a1a" stroke-width="0.28">0.15</text>
<text x="413.5" y="431.2" font-size="11.3" text-anchor="end" font-weight="bold" font-style="normal" fill="#1a1a1a"  stroke="#1a1a1a" stroke-width="0.28">0.20</text>
<text x="413.5" y="379.7" font-size="11.3" text-anchor="end" font-weight="bold" font-style="normal" fill="#1a1a1a"  stroke="#1a1a1a" stroke-width="0.28">0.25</text>
<text x="413.5" y="328.2" font-size="11.3" text-anchor="end" font-weight="bold" font-style="normal" fill="#1a1a1a"  stroke="#1a1a1a" stroke-width="0.28">0.30</text>
<text x="423.6" y="558.3" font-size="11.3" text-anchor="middle" font-weight="bold" font-style="normal" fill="#1a1a1a"  stroke="#1a1a1a" stroke-width="0.28">0</text>
<text x="474.18" y="558.3" font-size="11.3" text-anchor="middle" font-weight="bold" font-style="normal" fill="#1a1a1a"  stroke="#1a1a1a" stroke-width="0.28">1</text>
<text x="524.76" y="558.3" font-size="11.3" text-anchor="middle" font-weight="bold" font-style="normal" fill="#1a1a1a"  stroke="#1a1a1a" stroke-width="0.28">2</text>
<text x="575.34" y="558.3" font-size="11.3" text-anchor="middle" font-weight="bold" font-style="normal" fill="#1a1a1a"  stroke="#1a1a1a" stroke-width="0.28">3</text>
<text x="625.92" y="558.3" font-size="11.3" text-anchor="middle" font-weight="bold" font-style="normal" fill="#1a1a1a"  stroke="#1a1a1a" stroke-width="0.28">4</text>
<text x="676.5" y="558.3" font-size="11.3" text-anchor="middle" font-weight="bold" font-style="normal" fill="#1a1a1a"  stroke="#1a1a1a" stroke-width="0.28">5</text>
<text x="727.08" y="558.3" font-size="11.3" text-anchor="middle" font-weight="bold" font-style="normal" fill="#1a1a1a"  stroke="#1a1a1a" stroke-width="0.28">6</text>
<text x="522.1" y="580" font-size="13" text-anchor="start" font-weight="bold" font-style="normal" fill="#1a1a1a" textLength="102" lengthAdjust="spacingAndGlyphs" stroke="#1a1a1a" stroke-width="0.28">Relative time [h]</text>
<text x="573.5" y="598.5" font-size="17.2" text-anchor="middle" font-weight="normal" font-style="normal" fill="#1a1a1a" stroke="#1a1a1a" stroke-width="0.75">(d)</text>
<text x="380.9" y="431.85" font-size="12.5" text-anchor="middle" font-weight="bold" font-style="normal" fill="#1a1a1a" transform="rotate(-90 380.9 431.85)" textLength="128.9" lengthAdjust="spacingAndGlyphs" stroke="#1a1a1a" stroke-width="0.28">Band intensity [A.U.]</text>
<text x="431" y="350.4" font-size="10.4" text-anchor="start" font-weight="normal" font-style="italic" fill="#1a1a1a" transform="rotate(17.8 431 350.4)" stroke="#1a1a1a" stroke-width="0.35">1301 cm<tspan dy="-4.68" font-size="7.8">-1</tspan></text>
<text x="483.1" y="369" font-size="10.4" text-anchor="start" font-weight="normal" font-style="normal" fill="#1a1a1a" transform="rotate(17.6 483.1 369)" stroke="#1a1a1a" stroke-width="0.35" textLength="45.5" lengthAdjust="spacingAndGlyphs">C-O...C=C</text>
<text x="430.2" y="400.4" font-size="10.4" text-anchor="start" font-weight="normal" font-style="italic" fill="#1a1a1a" transform="rotate(17.5 430.2 400.4)" stroke="#1a1a1a" stroke-width="0.35">1325 cm<tspan dy="-4.68" font-size="7.8">-1</tspan></text>
<text x="482.4" y="418.4" font-size="10.4" text-anchor="start" font-weight="normal" font-style="normal" fill="#1a1a1a" transform="rotate(16.5 482.4 418.4)" stroke="#1a1a1a" stroke-width="0.35" textLength="45.5" lengthAdjust="spacingAndGlyphs">C-O...C=C</text>
<text x="430.4" y="495" font-size="10.5" text-anchor="start" font-weight="normal" font-style="normal" fill="#1a1a1a" transform="rotate(-20.5 430.4 495)" stroke="#1a1a1a" stroke-width="0.35">1240 cm<tspan dy="-4.2" font-size="9.45">-1</tspan></text>
<text x="484.7" y="476.4" font-size="10.5" text-anchor="start" font-weight="normal" font-style="normal" fill="#1a1a1a" transform="rotate(-20 484.7 476.4)" stroke="#1a1a1a" stroke-width="0.35">C-O</text>
<text x="429.8" y="525.3" font-size="10.5" text-anchor="start" font-weight="normal" font-style="normal" fill="#1a1a1a" transform="rotate(-21 429.8 525.3)" stroke="#1a1a1a" stroke-width="0.35">1270 cm<tspan dy="-4.2" font-size="9.45">-1</tspan></text>
<text x="484" y="506.2" font-size="10.5" text-anchor="start" font-weight="normal" font-style="normal" fill="#1a1a1a" transform="rotate(-20 484 506.2)" stroke="#1a1a1a" stroke-width="0.35">C-O</text>
</svg>
</body></html>
